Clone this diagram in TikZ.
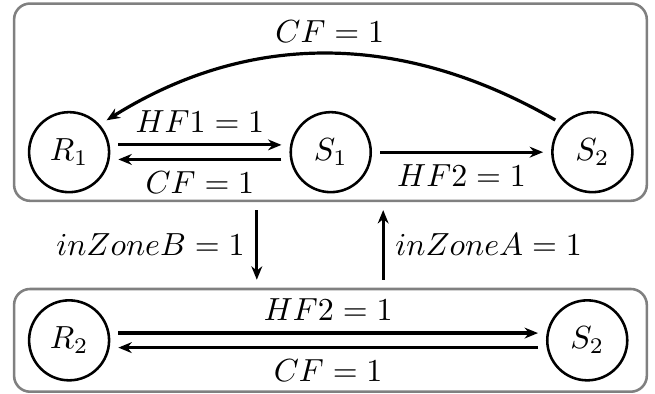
\documentclass[tikz,border=0pt]{standalone}
\usepackage{amsmath}
\usetikzlibrary{positioning,arrows.meta}

\begin{document}
\begin{tikzpicture}[
    node distance=1.97cm and 1.97cm,
    state/.style={circle, draw, thick, minimum size=0.88cm, inner sep=0pt},
    zone/.style={rectangle, draw=gray, thick, rounded corners=5pt,
                 minimum width=6.96cm},
    arrow/.style={->, line width=1pt, >={Stealth[length=4.2pt,width=3.4pt]},
                  shorten >=2.5pt, shorten <=2.5pt}
]
\useasboundingbox (0,0) rectangle (7.205,4.334);

% Zones
\node[zone, minimum height=2.17cm] (zoneA) at (3.635,3.21) {};
\node[zone, minimum height=1.13cm] (zoneB) at (3.635,0.59) {};

% Upper zone
\node[state] (R1) at (0.76,2.66) {$R_1$};
\node[state, right=of R1] (S1) {$S_1$};
\node[state, right=of S1] (S2) {$S_2$};

\draw[arrow] ([yshift=0.08cm]R1.east) -- node[above] {$HF1=1$} ([yshift=0.08cm]S1.west);
\draw[arrow] ([yshift=-0.08cm]S1.west) -- node[below] {$CF=1$} ([yshift=-0.08cm]R1.east);
\draw[arrow] (S1) -- node[below] {$HF2=1$} (S2);
\draw[arrow] (S2.137) to[out=150, in=32, looseness=1] node[above] {$CF=1$} (R1.42);

% Lower zone
\node[state] (R2) at (0.76,0.59) {$R_2$};
\node[state] (S2low) at (6.46,0.59) {$S_2$};

\draw[arrow] ([yshift=0.08cm]R2.east) -- node[above] {$HF2=1$} ([yshift=0.08cm]S2low.west);
\draw[arrow] ([yshift=-0.08cm]S2low.west) -- node[below] {$CF=1$} ([yshift=-0.08cm]R2.east);

% Switching between zones
\draw[arrow] ([xshift=-0.81cm]zoneA.south) -- node[left] {$inZoneB=1$} ([xshift=-0.81cm]zoneB.north);
\draw[arrow] ([xshift=0.58cm]zoneB.north) -- node[right] {$inZoneA=1$} ([xshift=0.58cm]zoneA.south);

\end{tikzpicture}
\end{document}
